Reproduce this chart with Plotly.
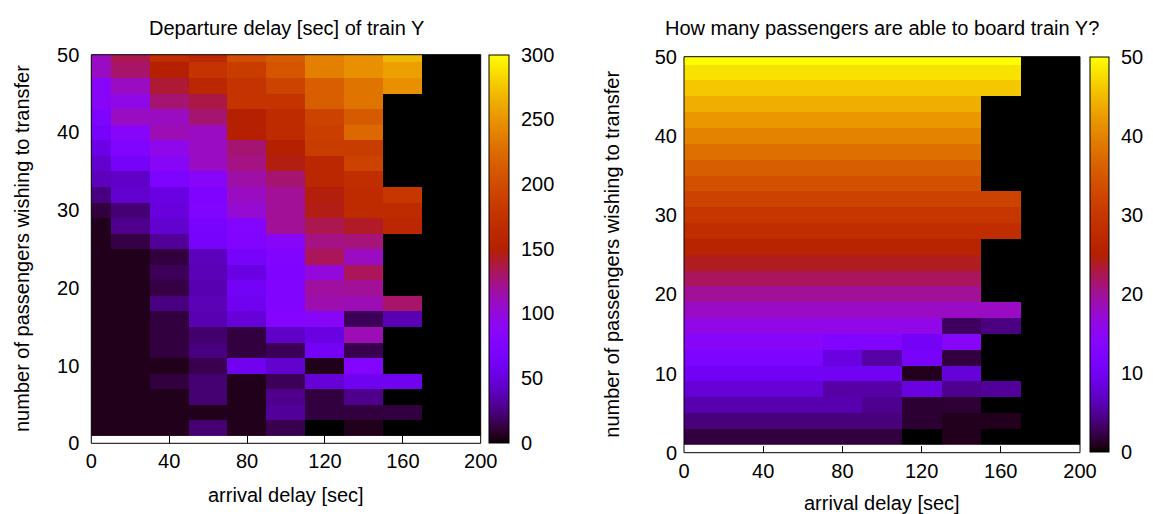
import math
import plotly.graph_objects as go

# ---------------- data ----------------
arrival_delay = [0, 20, 40, 60, 80, 100, 120, 140, 160, 180, 200]
passengers = [2, 4, 6, 8, 10, 12, 14, 16, 18, 20, 22, 24, 26,
              28, 30, 32, 34, 36, 38, 40, 42, 44, 46, 48, 50]

# Departure delay [sec] of train Y (rows: passengers 2..50, cols: arrival delay 0..200)
departure_delay = [
    [5, 5, 5, 22, 5, 15, 0, 5, 0, 0, 0],
    [5, 5, 5, 5, 5, 31, 12, 12, 12, 0, 0],
    [5, 5, 5, 22, 5, 28, 12, 28, 0, 0, 0],
    [5, 5, 12, 22, 5, 17, 48, 58, 58, 0, 0],
    [5, 5, 5, 15, 58, 45, 5, 80, 0, 0, 0],
    [5, 5, 12, 25, 12, 17, 62, 15, 0, 0, 0],
    [5, 5, 12, 21, 12, 43, 52, 112, 0, 0, 0],
    [5, 5, 12, 37, 48, 80, 86, 17, 37, 0, 0],
    [5, 5, 25, 38, 58, 76, 114, 112, 130, 0, 0],
    [5, 5, 13, 36, 62, 76, 118, 120, 0, 0, 0],
    [5, 5, 17, 38, 52, 74, 100, 133, 0, 0, 0],
    [5, 5, 12, 40, 66, 76, 133, 109, 0, 0, 0],
    [5, 13, 31, 66, 76, 86, 124, 126, 0, 0, 0],
    [5, 28, 45, 68, 80, 120, 135, 143, 160, 0, 0],
    [12, 23, 50, 76, 104, 120, 146, 166, 166, 0, 0],
    [25, 45, 52, 74, 109, 120, 148, 166, 180, 0, 0],
    [40, 43, 74, 84, 116, 128, 160, 170, 0, 0, 0],
    [45, 64, 86, 109, 124, 147, 160, 192, 0, 0, 0],
    [54, 76, 94, 109, 128, 150, 185, 185, 0, 0, 0],
    [66, 84, 112, 109, 152, 166, 188, 223, 0, 0, 0],
    [72, 109, 109, 128, 152, 166, 192, 212, 0, 0, 0],
    [86, 96, 128, 137, 177, 177, 215, 231, 0, 0, 0],
    [84, 109, 140, 162, 177, 192, 215, 231, 248, 0, 0],
    [109, 130, 150, 177, 185, 207, 238, 248, 257, 0, 0],
    [109, 135, 168, 162, 200, 212, 238, 248, 268, 0, 0],
]

# How many passengers are able to board train Y
boarded = [
    [2, 2, 2, 2, 2, 2, 0, 0.9, 0, 0, 0],
    [4, 4, 4, 4, 4, 4, 1.6, 0.9, 0.9, 0, 0],
    [6, 6, 6, 6, 6, 4.7, 1.6, 1.6, 0, 0, 0],
    [8, 8, 8, 8, 5.6, 5.6, 8.6, 4.7, 5.2, 0, 0],
    [10, 10, 10, 10, 10, 10, 0.9, 8, 0, 0, 0],
    [12, 12, 12, 12, 8.6, 5.6, 11, 2, 0, 0, 0],
    [14, 14, 14, 14, 12.6, 12.6, 10.5, 14, 0, 0, 0],
    [16, 16, 16, 16, 16, 16, 16, 3, 4.2, 0, 0],
    [18, 18, 18, 18, 18, 18, 18, 18, 18, 0, 0],
    [20, 20, 20, 20, 20, 20, 20, 20, 0, 0, 0],
    [22, 22, 22, 22, 22, 22, 22, 22, 0, 0, 0],
    [24, 24, 24, 24, 24, 24, 24, 24, 0, 0, 0],
    [26, 26, 26, 26, 26, 26, 26, 26, 0, 0, 0],
    [28, 28, 28, 28, 28, 28, 28, 28, 28, 0, 0],
    [30, 30, 30, 30, 30, 30, 30, 30, 30, 0, 0],
    [32, 32, 32, 32, 32, 32, 32, 32, 32, 0, 0],
    [34, 34, 34, 34, 34, 34, 34, 34, 0, 0, 0],
    [36, 36, 36, 36, 36, 36, 36, 36, 0, 0, 0],
    [38, 38, 38, 38, 38, 38, 38, 38, 0, 0, 0],
    [40, 40, 40, 40, 40, 40, 40, 40, 0, 0, 0],
    [42, 42, 42, 42, 42, 42, 42, 42, 0, 0, 0],
    [44, 44, 44, 44, 44, 44, 44, 44, 0, 0, 0],
    [46, 46, 46, 46, 46, 46, 46, 46, 46, 0, 0],
    [48, 48, 48, 48, 48, 48, 48, 48, 48, 0, 0],
    [50, 50, 50, 50, 50, 50, 50, 50, 50, 0, 0],
]

x_ticks = [0, 40, 80, 120, 160, 200]
y_ticks = [0, 10, 20, 30, 40, 50]
cb1_ticks = [0, 50, 100, 150, 200, 250, 300]
cb2_ticks = [0, 10, 20, 30, 40, 50]

title_left = "Departure delay [sec] of train Y"
title_right = "How many passengers are able to board train Y?"
x_title = "arrival delay [sec]"
y_title = "number of passengers wishing to transfer"


# ---------------- gnuplot (7,5,15) palette ----------------
def gnuplot_rgb(t):
    r = math.sqrt(t)
    g = t ** 3
    b = max(0.0, math.sin(2 * math.pi * t))
    return "rgb(%d,%d,%d)" % (round(r * 255), round(g * 255), round(b * 255))


colorscale = [[i / 100, gnuplot_rgb(i / 100)] for i in range(101)]

W, H = 1153, 514
FONT = "Liberation Sans, Arial, Helvetica, sans-serif"
FS = 20


def px_x(p):
    return p / W


def px_y(p):
    return 1 - p / H


# plot-area pixel boxes (left, right, top, bottom)
L1 = (91.3, 480.7, 54.7, 443.3)
L2 = (684.0, 1080.0, 56.7, 452.7)
# colorbar pixel boxes (left, right, top, bottom)
CB1 = (489.0, 509.0, 54.7, 442.7)
CB2 = (1090.0, 1109.0, 57.0, 452.0)


def colorbar_dict(box, ticks):
    return dict(
        x=px_x(box[0]), xanchor="left", xpad=0, ypad=0,
        y=px_y((box[2] + box[3]) / 2), yanchor="middle",
        len=(box[3] - box[2]) / H, lenmode="fraction",
        thickness=box[1] - box[0], thicknessmode="pixels",
        outlinecolor="black", outlinewidth=1,
        tickmode="array", tickvals=ticks,
        ticks="outside", ticklen=8, tickcolor="rgba(0,0,0,0)",
        tickfont=dict(family=FONT, size=FS, color="black"),
    )


fig = go.Figure()

fig.add_trace(go.Heatmap(
    x=arrival_delay, y=passengers, z=departure_delay,
    zmin=0, zmax=300, colorscale=colorscale, xaxis="x", yaxis="y",
    hoverinfo="x+y+z", colorbar=colorbar_dict(CB1, cb1_ticks),
))

fig.add_trace(go.Heatmap(
    x=arrival_delay, y=passengers, z=boarded,
    zmin=0, zmax=50, colorscale=colorscale, xaxis="x2", yaxis="y2",
    hoverinfo="x+y+z", colorbar=colorbar_dict(CB2, cb2_ticks),
))

axis_common = dict(
    showgrid=False, zeroline=False, showline=False,
    ticks="inside", ticklen=7, tickcolor="black", tickwidth=1,
    mirror="ticks", layer="below traces",
    tickfont=dict(family=FONT, size=FS, color="black"),
    fixedrange=True,
)

fig.update_layout(
    width=W, height=H, autosize=False,
    margin=dict(l=0, r=0, t=0, b=0, autoexpand=False),
    paper_bgcolor="white", plot_bgcolor="white",
    font=dict(family=FONT, size=FS, color="black"),
    xaxis=dict(domain=[px_x(L1[0]), px_x(L1[1])], range=[0, 200],
               tickmode="array", tickvals=x_ticks, anchor="y",
               ticklabelstandoff=4, **axis_common),
    yaxis=dict(domain=[px_y(L1[3]), px_y(L1[2])], range=[0, 50],
               tickmode="array", tickvals=y_ticks, anchor="x",
               ticklabelstandoff=11, **axis_common),
    xaxis2=dict(domain=[px_x(L2[0]), px_x(L2[1])], range=[0, 200],
                tickmode="array", tickvals=x_ticks, anchor="y2",
                ticklabelstandoff=4, **axis_common),
    yaxis2=dict(domain=[px_y(L2[3]), px_y(L2[2])], range=[0, 50],
                tickmode="array", tickvals=y_ticks, anchor="x2",
                ticklabelstandoff=6, **axis_common),
    showlegend=False,
)

# frames around the two plot areas
for xr, yr in (("x domain", "y domain"), ("x2 domain", "y2 domain")):
    fig.add_shape(type="rect", xref=xr, yref=yr, x0=0, x1=1, y0=0, y1=1,
                  line=dict(color="black", width=1), layer="above")

# small inward tick dashes on both edges of each colorbar (gnuplot style)
for box, ticks in ((CB1, cb1_ticks), (CB2, cb2_ticks)):
    vmax = ticks[-1]
    for v in ticks[1:-1]:
        yp = box[3] - (box[3] - box[2]) * v / vmax
        for xa, xb in ((box[0], box[0] + 5), (box[1] - 5, box[1])):
            fig.add_shape(type="line", xref="paper", yref="paper",
                          x0=px_x(xa), x1=px_x(xb), y0=px_y(yp), y1=px_y(yp),
                          line=dict(color="#333333", width=1), layer="above")

ann_font = dict(family=FONT, size=FS, color="black")
annotations = [
    dict(text=title_left, x=px_x((L1[0] + L1[1]) / 2), y=px_y(28)),
    dict(text=title_right, x=px_x((L2[0] + L2[1]) / 2), y=px_y(28)),
    dict(text=x_title, x=px_x((L1[0] + L1[1]) / 2), y=px_y(495)),
    dict(text=x_title, x=px_x((L2[0] + L2[1]) / 2), y=px_y(503)),
    dict(text=y_title, x=px_x(22), y=px_y((L1[2] + L1[3]) / 2), textangle=-90),
    dict(text=y_title, x=px_x(612), y=px_y((L2[2] + L2[3]) / 2), textangle=-90),
]
for a in annotations:
    fig.add_annotation(xref="paper", yref="paper", showarrow=False,
                       xanchor="center", yanchor="middle", font=ann_font, **a)

fig.write_html(
    "out.html",
    config={"displayModeBar": False},
    post_script="document.body.style.margin='0px';document.body.style.overflow='hidden';",
)
